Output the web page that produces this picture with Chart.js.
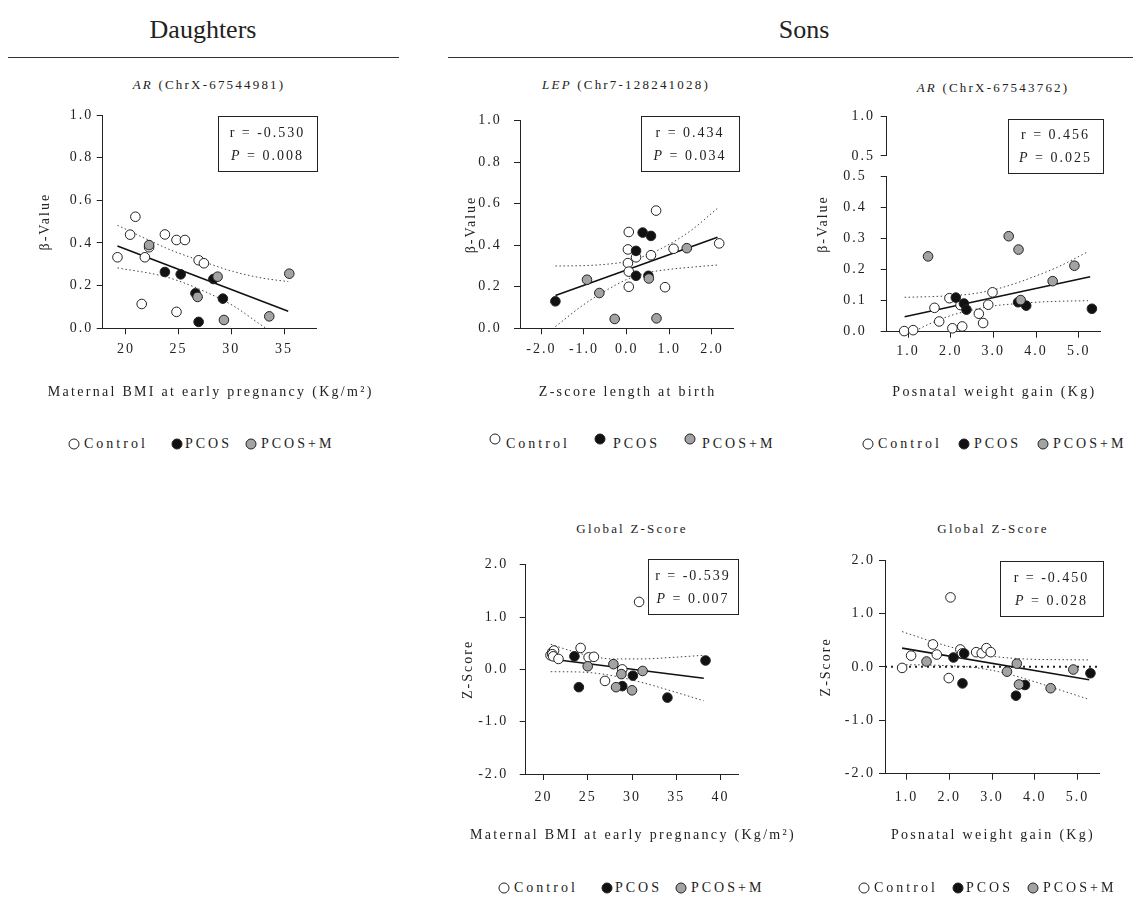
<!DOCTYPE html>
<html lang="en">
<head>
<meta charset="utf-8">
<title>Methylation correlations</title>
<script src="https://cdn.jsdelivr.net/npm/chart.js@4.4.1/dist/chart.umd.min.js"></script>
<style>
  html, body { margin:0; padding:0; background:#ffffff; }
  body { width:1133px; height:900px; position:relative; overflow:hidden;
         font-family:"Liberation Serif","Times New Roman",serif; color:#222; }
  canvas { position:absolute; }
  .c { position:absolute; white-space:nowrap; transform:translate(-50%,-50%); }
  .head { font-size:26px; }
  .sub { font-size:13px; letter-spacing:2.2px; }
  .rule { position:absolute; height:0; border-top:1.5px solid #333; }
  .lsym { position:absolute; width:11px; height:11px; border-radius:50%; box-sizing:border-box;
          border:1px solid #222; transform:translate(-50%,-50%); }
  .ltxt { position:absolute; font-size:14px; letter-spacing:3px; white-space:nowrap; transform:translateY(-50%); }
</style>
</head>
<body>
<script>
// ------------------------------------------------------------------ data
const legendLabels = ['Control', 'PCOS', 'PCOS+M'];
const legendFills  = ['#ffffff', '#111111', '#a3a3a3'];

// Daughters – AR (ChrX-67544981) β-value vs maternal BMI
const dArCtrlX  = [19.2, 20.4, 20.9, 21.5, 21.8, 22.2, 23.7, 24.8, 24.8, 25.6, 26.9, 27.4];
const dArCtrlY  = [0.333, 0.439, 0.523, 0.114, 0.333, 0.380, 0.440, 0.414, 0.077, 0.414, 0.319, 0.305];
const dArPcosX  = [23.7, 25.2, 26.6, 26.9, 28.3, 29.2];
const dArPcosY  = [0.264, 0.253, 0.164, 0.030, 0.231, 0.139];
const dArPcosMX = [22.2, 26.8, 28.7, 29.3, 33.6, 35.5];
const dArPcosMY = [0.390, 0.147, 0.242, 0.039, 0.056, 0.256];
const dArFitX   = [19.2, 35.4];
const dArFitY   = [0.386, 0.080];
const dArUpX    = [19.2, 22.15, 24.5, 26.9, 30.2, 33.0, 35.4];
const dArUpY    = [0.483, 0.414, 0.362, 0.320, 0.266, 0.235, 0.219];
const dArLoX    = [19.2, 23.25, 25.0, 27.0, 30.2, 33.3, 35.4];
const dArLoY    = [0.283, 0.248, 0.222, 0.183, 0.105, 0.000, -0.060];

// Sons – LEP (Chr7-128241028) β-value vs Z-score length at birth
const sLepCtrlX  = [0.05, 0.03, 0.03, 0.05, 0.05, 0.22, 0.57, 0.69, 1.10, 0.90, 2.17];
const sLepCtrlY  = [0.464, 0.380, 0.314, 0.273, 0.200, 0.342, 0.352, 0.567, 0.383, 0.198, 0.409];
const sLepPcosX  = [-1.67, 0.22, 0.375, 0.57, 0.22, 0.51];
const sLepPcosY  = [0.130, 0.373, 0.461, 0.445, 0.253, 0.253];
const sLepPcosMX = [-0.93, -0.64, -0.28, 0.52, 0.70, 1.41];
const sLepPcosMY = [0.234, 0.170, 0.045, 0.240, 0.048, 0.386];
const sLepFitX   = [-1.67, 2.13];
const sLepFitY   = [0.158, 0.439];
const sLepUpX    = [-1.67, -1.0, -0.5, 0.0, 0.5, 1.0, 1.5, 2.13];
const sLepUpY    = [0.300, 0.302, 0.308, 0.322, 0.355, 0.405, 0.470, 0.578];
const sLepLoX    = [-1.67, -1.0, -0.5, 0.0, 0.5, 1.0, 1.5, 2.13];
const sLepLoY    = [0.008, 0.115, 0.180, 0.235, 0.268, 0.284, 0.294, 0.305];

// Sons – AR (ChrX-67543762) β-value vs postnatal weight gain
const sArCtrlX  = [0.91, 1.12, 1.62, 1.73, 1.97, 2.04, 2.27, 2.23, 2.66, 2.76, 2.88, 2.98];
const sArCtrlY  = [0.002, 0.005, 0.077, 0.033, 0.108, 0.011, 0.017, 0.086, 0.058, 0.028, 0.087, 0.127];
const sArPcosX  = [2.12, 2.31, 2.37, 3.58, 3.77, 5.31];
const sArPcosY  = [0.110, 0.091, 0.071, 0.095, 0.084, 0.074];
const sArPcosMX = [1.47, 3.36, 3.59, 3.64, 4.39, 4.90];
const sArPcosMY = [0.243, 0.308, 0.265, 0.102, 0.163, 0.213];
const sArFitX   = [0.92, 5.27];
const sArFitY   = [0.048, 0.177];
const sArUpX    = [0.92, 1.5, 2.0, 2.5, 3.0, 3.5, 4.0, 4.5, 5.22];
const sArUpY    = [0.111, 0.113, 0.116, 0.122, 0.135, 0.155, 0.180, 0.208, 0.258];
const sArLoX    = [0.92, 1.5, 2.0, 2.5, 3.0, 3.5, 4.0, 4.5, 5.22];
const sArLoY    = [-0.015, 0.025, 0.052, 0.070, 0.083, 0.090, 0.095, 0.098, 0.100];

// Sons – Global Z-score vs maternal BMI
const zBmiCtrlX  = [30.8, 20.8, 21.0, 21.2, 21.0, 21.1, 21.7, 24.2, 25.1, 25.7, 26.95, 28.9];
const zBmiCtrlY  = [1.29, 0.27, 0.33, 0.36, 0.29, 0.25, 0.20, 0.41, 0.23, 0.24, -0.22, 0.00];
const zBmiPcosX  = [23.5, 24.0, 28.9, 30.1, 34.0, 38.3];
const zBmiPcosY  = [0.25, -0.34, -0.32, -0.12, -0.54, 0.17];
const zBmiPcosMX = [25.0, 27.9, 28.8, 28.2, 30.0, 31.2];
const zBmiPcosMY = [0.06, 0.10, -0.09, -0.34, -0.40, -0.03];
const zBmiFitX   = [20.83, 38.1];
const zBmiFitY   = [0.20, -0.17];
const zBmiUpX    = [20.83, 23.0, 25.2, 27.9, 30.9, 34.6, 38.1];
const zBmiUpY    = [0.48, 0.36, 0.26, 0.20, 0.20, 0.23, 0.27];
const zBmiLoX    = [20.83, 24.1, 27.1, 30.9, 34.6, 38.1];
const zBmiLoY    = [-0.044, -0.05, -0.10, -0.24, -0.42, -0.60];

// Sons – Global Z-score vs postnatal weight gain
const zWgCtrlX  = [0.90, 1.11, 1.62, 1.71, 2.03, 1.99, 2.26, 2.30, 2.63, 2.76, 2.87, 2.97];
const zWgCtrlY  = [-0.02, 0.21, 0.42, 0.23, 1.30, -0.21, 0.325, 0.25, 0.275, 0.256, 0.35, 0.275];
const zWgPcosX  = [2.10, 2.35, 2.31, 3.56, 3.77, 5.30];
const zWgPcosY  = [0.175, 0.25, -0.31, -0.54, -0.34, -0.12];
const zWgPcosMX = [1.47, 3.35, 3.58, 3.63, 4.37, 4.90];
const zWgPcosMY = [0.10, -0.09, 0.06, -0.33, -0.40, -0.05];
const zWgFitX   = [0.90, 5.27];
const zWgFitY   = [0.35, -0.24];
const zWgUpX    = [0.90, 1.5, 2.0, 2.5, 3.0, 3.5, 4.0, 4.5, 5.27];
const zWgUpY    = [0.66, 0.50, 0.38, 0.27, 0.20, 0.16, 0.14, 0.135, 0.13];
const zWgLoX    = [0.90, 1.5, 2.0, 2.5, 3.0, 3.5, 4.0, 4.5, 5.27];
const zWgLoY    = [0.04, 0.035, 0.02, -0.005, -0.065, -0.16, -0.28, -0.41, -0.61];
const zeroLineX = [0.5, 5.5];
const zeroLineY = [0, 0];

// statistics shown in the boxes
const rValues = ['-0.530', '0.434', '0.456', '-0.539', '-0.450'];
const pValues = ['0.008', '0.034', '0.025', '0.007', '0.028'];

// tick values and labels
const bmiDTicks  = [20, 25, 30, 35];
const bmiDLabels = ['20', '25', '30', '35'];
const bmiSTicks  = [20, 25, 30, 35, 40];
const bmiSLabels = ['20', '25', '30', '35', '40'];
const zlenTicks  = [-2, -1, 0, 1, 2];
const zlenLabels = ['-2.0', '-1.0', '0.0', '1.0', '2.0'];
const wgTicks    = [1, 2, 3, 4, 5];
const wgLabels   = ['1.0', '2.0', '3.0', '4.0', '5.0'];
const betaTicks  = [0, 0.2, 0.4, 0.6, 0.8, 1.0];
const betaLabels = ['0.0', '0.2', '0.4', '0.6', '0.8', '1.0'];
const betaLowTicks  = [0, 0.1, 0.2, 0.3, 0.4, 0.5];
const betaLowLabels = ['0.0', '0.1', '0.2', '0.3', '0.4', '0.5'];
const betaTopTicks  = [0.5, 1.0];
const betaTopLabels = ['0.5', '1.0'];
const zTicks  = [-2, -1, 0, 1, 2];
const zLabels = ['-2.0', '-1.0', '0.0', '1.0', '2.0'];

// ------------------------------------------------------------------ helpers
const FONT = '"Liberation Serif","Times New Roman",serif';
const INK = '#222222';
const LH = 14 * 1.2;

Chart.defaults.font.family = FONT;
Chart.defaults.font.size = 14;
Chart.defaults.color = INK;

const spacing = {
  id: 'spacing',
  beforeLayout(c) { c.ctx.letterSpacing = '2px'; },
  beforeDraw(c) { c.ctx.letterSpacing = '2px'; }
};

const annot = {
  id: 'annot',
  afterDraw(chart, args, o) {
    const ctx = chart.ctx;
    const ox = o.ox, oy = o.oy;
    ctx.save();
    ctx.letterSpacing = '2px';
    ctx.fillStyle = INK;
    if (o.box) {
      const b = o.box;
      ctx.strokeStyle = INK; ctx.lineWidth = 1;
      ctx.strokeRect(Math.round(b.x - ox) + 0.5, Math.round(b.y - oy) + 0.5, Math.round(b.w), Math.round(b.h));
      ctx.textBaseline = 'middle'; ctx.textAlign = 'left';
      const cx = b.x - ox + b.w / 2;
      ctx.font = '14px ' + FONT;
      const l1 = 'r = ' + o.r;
      const w1 = ctx.measureText(l1).width;
      ctx.fillText(l1, cx - w1 / 2, b.y - oy + b.h * 0.31);
      ctx.font = 'italic 14px ' + FONT;
      const wP = ctx.measureText('P').width;
      ctx.font = '14px ' + FONT;
      const rest = ' = ' + o.p;
      const wR = ctx.measureText(rest).width;
      const x0 = cx - (wP + wR) / 2;
      const y2 = b.y - oy + b.h * 0.73;
      ctx.font = 'italic 14px ' + FONT; ctx.fillText('P', x0, y2);
      ctx.font = '14px ' + FONT; ctx.fillText(rest, x0 + wP, y2);
    }
    if (o.xTitle) {
      const area = chart.chartArea;
      ctx.letterSpacing = '2.3px';
      ctx.font = '14px ' + FONT; ctx.textAlign = 'center'; ctx.textBaseline = 'middle';
      ctx.fillText(o.xTitle.text, (area.left + area.right) / 2 + 1, o.xTitle.y - oy);
      ctx.letterSpacing = '2px';
    }
    if (o.yTitle) {
      ctx.translate(o.yTitle.x - ox, o.yTitle.y - oy);
      ctx.rotate(-Math.PI / 2);
      ctx.font = '14px ' + FONT; ctx.textAlign = 'center'; ctx.textBaseline = 'middle';
      ctx.fillText(o.yTitle.text, 0, 0);
    }
    ctx.restore();
  }
};

function pts(xs, ys) { return xs.map((x, i) => ({ x: x, y: ys[i] })); }

function scatterSet(label, xs, ys, fill, order) {
  return { label, data: pts(xs, ys), showLine: false, pointRadius: 4.8, pointHoverRadius: 4.8,
           pointBackgroundColor: fill, pointBorderColor: INK, pointBorderWidth: 1, order, clip: false };
}
function lineSet(xs, ys, color, width, dash, order) {
  return { data: pts(xs, ys), showLine: true, pointRadius: 0, pointHoverRadius: 0,
           borderColor: color, borderWidth: width, borderDash: dash, fill: false,
           cubicInterpolationMode: 'monotone', order, clip: 0 };
}
function panelSets(cx, cy, px, py, mx, my, fx, fy, ux, uy, lx, ly) {
  return [
    scatterSet(legendLabels[2], mx, my, legendFills[2], 1),
    scatterSet(legendLabels[1], px, py, legendFills[1], 2),
    scatterSet(legendLabels[0], cx, cy, legendFills[0], 3),
    lineSet(fx, fy, '#111111', 1.6, [], 4),
    lineSet(ux, uy, '#444444', 1, [1.5, 2.5], 5),
    lineSet(lx, ly, '#444444', 1, [1.5, 2.5], 5)
  ];
}

function axisBase() {
  return {
    type: 'linear',
    grid: { display: true, drawOnChartArea: false, drawTicks: true, tickLength: 6, tickWidth: 1,
            tickColor: INK, lineWidth: 1, color: INK },
    border: { display: true, color: INK, width: 1 }
  };
}

function makePanel(p) {
  const cv = document.createElement('canvas');
  cv.width = p.cv.w; cv.height = p.cv.h;
  cv.style.left = p.cv.x + 'px'; cv.style.top = p.cv.y + 'px';
  cv.style.width = p.cv.w + 'px'; cv.style.height = p.cv.h + 'px';
  document.body.appendChild(cv);
  const A = p.area;
  const yW = A.l - p.cv.x;
  const xH = p.cv.y + p.cv.h - A.b;

  const xScale = p.noX ? { type: 'linear', display: false, min: 0, max: 1 } : Object.assign(axisBase(), {
    position: 'bottom', min: p.xMin, max: p.xMax,
    afterBuildTicks: s => { s.ticks = p.xTicks.map(v => ({ value: v })); },
    ticks: { autoSkip: false, maxRotation: 0, minRotation: 0, color: INK, font: { size: 14 },
             padding: p.xLabelY - A.b - 6 - LH / 2, callback: (v, i) => p.xLabels[i] },
    title: { display: false },
    afterFit: s => { s.height = xH; }
  });

  const yScale = Object.assign(axisBase(), {
    position: 'left', min: p.yMin, max: p.yMax,
    afterBuildTicks: s => { s.ticks = p.yTicks.map(v => ({ value: v })); },
    ticks: { autoSkip: false, color: INK, font: { size: 14 },
             padding: A.l - 6 - p.yLabelRight, callback: (v, i) => p.yLabels[i] },
    title: p.yTitle ? { display: true, text: p.yTitle, color: INK, font: { size: 14 },
             padding: { top: p.yTitleX - p.cv.x - LH / 2, bottom: 0 } } : { display: false },
    afterFit: s => { s.width = yW; }
  });

  const annotOpts = Object.assign({ ox: p.cv.x, oy: p.cv.y }, p.annot || {});
  if (p.xTitle) annotOpts.xTitle = { text: p.xTitle, y: p.xTitleY };

  return new Chart(cv, {
    type: 'scatter',
    data: { datasets: p.datasets || [] },
    options: {
      responsive: false, animation: false, events: [],
      layout: { padding: { left: 0, top: A.t - p.cv.y,
                           right: p.cv.x + p.cv.w - A.r,
                           bottom: p.noX ? (p.cv.y + p.cv.h - A.b) : 0 } },
      plugins: {
        legend: { display: false }, tooltip: { enabled: false }, title: { display: false },
        annot: annotOpts
      },
      scales: { x: xScale, y: yScale }
    },
    plugins: [spacing, annot]
  });
}

function addText(cls, html, x, y) {
  const d = document.createElement('div');
  d.className = 'c ' + cls; d.innerHTML = html;
  d.style.left = x + 'px'; d.style.top = y + 'px';
  document.body.appendChild(d);
}
function addRule(x1, x2, y) {
  const d = document.createElement('div');
  d.className = 'rule';
  d.style.left = x1 + 'px'; d.style.width = (x2 - x1) + 'px'; d.style.top = y + 'px';
  document.body.appendChild(d);
}
function addLegend(items, y, symDy) {
  legendLabels.forEach((lab, i) => {
    const s = document.createElement('div');
    s.className = 'lsym'; s.style.background = legendFills[i];
    s.style.left = items[i][0] + 'px'; s.style.top = (y + symDy) + 'px';
    document.body.appendChild(s);
    const t = document.createElement('div');
    t.className = 'ltxt'; t.textContent = lab;
    t.style.left = items[i][1] + 'px'; t.style.top = y + 'px';
    document.body.appendChild(t);
  });
}

// ------------------------------------------------------------------ headings
addText('head', 'Daughters', 203, 30);
addText('head', 'Sons', 804, 30);
addRule(8, 399, 57);
addRule(448, 1133, 57);
addText('sub', '<i>AR</i> (ChrX-67544981)', 209, 85);
addText('sub', '<i>LEP</i> (Chr7-128241028)', 626, 85);
addText('sub', '<i>AR</i> (ChrX-67543762)', 993, 88);
addText('sub', 'Global Z-Score', 632, 529);
addText('sub', 'Global Z-Score', 993, 529);

// ------------------------------------------------------------------ panels
makePanel({
  cv: { x: 0, y: 100, w: 420, h: 330 }, area: { l: 102.7, t: 115, r: 316.7, b: 328.3 },
  xMin: 17.8, xMax: 38.1, xTicks: bmiDTicks, xLabels: bmiDLabels, xLabelY: 349,
  xTitle: 'Maternal BMI at early pregnancy (Kg/m²)', xTitleY: 392,
  yMin: 0, yMax: 1, yTicks: betaTicks, yLabels: betaLabels, yLabelRight: 93.3,
  yTitle: 'β-Value', yTitleX: 45,
  datasets: panelSets(dArCtrlX, dArCtrlY, dArPcosX, dArPcosY, dArPcosMX, dArPcosMY,
                      dArFitX, dArFitY, dArUpX, dArUpY, dArLoX, dArLoY),
  annot: { box: { x: 218, y: 116, w: 99, h: 55 }, r: rValues[0], p: pValues[0] }
});

makePanel({
  cv: { x: 440, y: 100, w: 340, h: 330 }, area: { l: 520, t: 115, r: 733.3, b: 328.3 },
  xMin: -2.5, xMax: 2.5, xTicks: zlenTicks, xLabels: zlenLabels, xLabelY: 349,
  xTitle: 'Z-score length at birth', xTitleY: 392,
  yMin: 0, yMax: 1, yTicks: betaTicks, yLabels: betaLabels, yLabelRight: 501.7,
  yTitle: 'β-Value', yTitleX: 471.7,
  datasets: panelSets(sLepCtrlX, sLepCtrlY, sLepPcosX, sLepPcosY, sLepPcosMX, sLepPcosMY,
                      sLepFitX, sLepFitY, sLepUpX, sLepUpY, sLepLoX, sLepLoY),
  annot: { box: { x: 641, y: 116, w: 98, h: 55 }, r: rValues[1], p: pValues[1] }
});

makePanel({
  cv: { x: 800, y: 105, w: 333, h: 325 }, area: { l: 886.7, t: 176.7, r: 1100, b: 331.7 },
  xMin: 0.5, xMax: 5.5, xTicks: wgTicks, xLabels: wgLabels, xLabelY: 351,
  xTitle: 'Posnatal weight gain (Kg)', xTitleY: 392,
  yMin: 0, yMax: 0.5, yTicks: betaLowTicks, yLabels: betaLowLabels, yLabelRight: 866.7,
  datasets: panelSets(sArCtrlX, sArCtrlY, sArPcosX, sArPcosY, sArPcosMX, sArPcosMY,
                      sArFitX, sArFitY, sArUpX, sArUpY, sArLoX, sArLoY),
  annot: { box: { x: 1008, y: 119, w: 95, h: 54 }, r: rValues[2], p: pValues[2],
           yTitle: { text: 'β-Value', x: 823.3, y: 224 } }
});

// upper segment of the broken β-value axis
makePanel({
  cv: { x: 820, y: 100, w: 90, h: 70 }, area: { l: 886.7, t: 116.7, r: 896.7, b: 156 },
  noX: true,
  yMin: 0.5, yMax: 1.0, yTicks: betaTopTicks, yLabels: betaTopLabels, yLabelRight: 875,
  datasets: []
});

makePanel({
  cv: { x: 440, y: 545, w: 380, h: 320 }, area: { l: 525.7, t: 560, r: 738.3, b: 774 },
  xMin: 18, xMax: 42, xTicks: bmiSTicks, xLabels: bmiSLabels, xLabelY: 797,
  xTitle: 'Maternal BMI at early pregnancy (Kg/m²)', xTitleY: 835,
  yMin: -2, yMax: 2, yTicks: zTicks, yLabels: zLabels, yLabelRight: 508.3,
  yTitle: 'Z-Score', yTitleX: 468.3,
  datasets: panelSets(zBmiCtrlX, zBmiCtrlY, zBmiPcosX, zBmiPcosY, zBmiPcosMX, zBmiPcosMY,
                      zBmiFitX, zBmiFitY, zBmiUpX, zBmiUpY, zBmiLoX, zBmiLoY),
  annot: { box: { x: 648, y: 559, w: 90, h: 55 }, r: rValues[3], p: pValues[3] }
});

const wgSets = panelSets(zWgCtrlX, zWgCtrlY, zWgPcosX, zWgPcosY, zWgPcosMX, zWgPcosMY,
                         zWgFitX, zWgFitY, zWgUpX, zWgUpY, zWgLoX, zWgLoY);
wgSets.push(lineSet(zeroLineX, zeroLineY, '#222222', 2, [2, 4], 6));
makePanel({
  cv: { x: 800, y: 545, w: 333, h: 320 }, area: { l: 885, t: 560, r: 1099, b: 773.7 },
  xMin: 0.5, xMax: 5.5, xTicks: wgTicks, xLabels: wgLabels, xLabelY: 797,
  xTitle: 'Posnatal weight gain (Kg)', xTitleY: 835,
  yMin: -2, yMax: 2, yTicks: zTicks, yLabels: zLabels, yLabelRight: 875,
  yTitle: 'Z-Score', yTitleX: 826.7,
  datasets: wgSets,
  annot: { box: { x: 1000, y: 561, w: 103, h: 55 }, r: rValues[4], p: pValues[4] }
});

// ------------------------------------------------------------------ legends
addLegend([[74, 84], [177, 185], [251, 261]], 444, 0);
addLegend([[495, 506], [600, 613], [690, 702]], 444, -5);
addLegend([[868, 878], [964, 974], [1043, 1053]], 444, 0);
addLegend([[504, 514], [607, 615], [681, 691]], 888, 0);
addLegend([[864, 874], [958, 966], [1033, 1043]], 888, 0);
</script>
</body>
</html>
